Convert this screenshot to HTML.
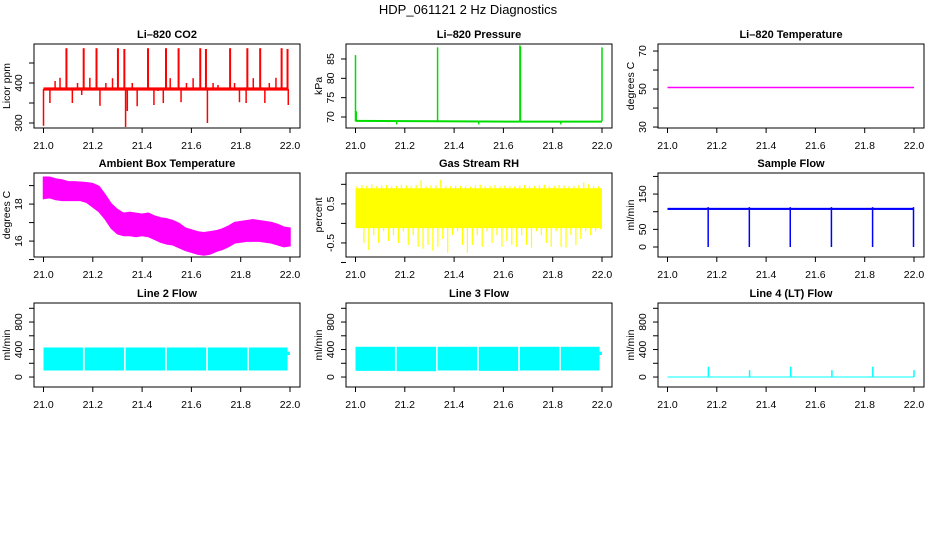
<!DOCTYPE html>
<html><head><meta charset="utf-8"><style>
body{margin:0;background:#fff;}
svg{display:block;font-family:"Liberation Sans",sans-serif;}
</style></head><body>
<svg id="chart" width="936" height="540" xmlns="http://www.w3.org/2000/svg">
<rect width="936" height="540" fill="#fff"/>
<text x="468" y="14" text-anchor="middle" font-size="13">HDP_061121  2 Hz Diagnostics</text>
</svg>
<script>
const xTicks=[21.0,21.2,21.4,21.6,21.8,22.0];
const xTickLabels=["21.0","21.2","21.4","21.6","21.8","22.0"];
// CO2
const co2Base=385;
const co2SpikeX=[21.0,21.026,21.047,21.067,21.093,21.117,21.138,21.155,21.163,21.188,21.215,21.229,21.253,21.28,21.302,21.328,21.333,21.34,21.36,21.38,21.424,21.448,21.465,21.486,21.497,21.514,21.548,21.558,21.58,21.607,21.636,21.659,21.665,21.688,21.708,21.757,21.775,21.795,21.822,21.827,21.851,21.879,21.898,21.916,21.943,21.966,21.99,21.993];
const co2SpikeY=[293,350,405,413,487,350,400,370,487,413,487,343,400,412,487,485,290,330,400,342,487,345,380,350,487,412,487,352,400,412,487,485,300,400,395,487,400,352,350,487,412,487,350,400,413,487,485,345];
// Pressure
const presBaseX=[21.0,21.33,21.67,22.0];
const presBaseY=[69.0,68.9,68.8,68.8];
const presSpikeX=[21.0,21.003,21.167,21.333,21.5,21.667,21.669,21.833,22.0];
const presSpikeY=[86,71.5,68.1,88,68.1,88.5,88.2,68.1,88];
// Li-820 temperature
const tempX=[21.0,22.0];
const tempY=[50.8,50.8];
// Ambient box temp band
const ambHi=[19.45,19.45,19.35,19.3,19.2,19.2,19.18,19.15,19.1,18.95,18.5,18.0,17.7,17.5,17.55,17.5,17.45,17.5,17.35,17.25,17.2,17.1,16.95,16.7,16.6,16.5,16.45,16.5,16.55,16.65,16.8,17.0,17.05,17.1,17.15,17.1,17.05,17.0,16.9,16.75,16.7];
const ambLo=[18.3,18.35,18.25,18.2,18.2,18.2,18.2,18.1,17.85,17.6,17.2,16.7,16.4,16.3,16.3,16.25,16.3,16.25,16.1,15.95,15.85,15.8,15.65,15.5,15.4,15.3,15.25,15.3,15.45,15.55,15.7,15.9,15.95,16.0,16.0,16.0,15.95,15.9,15.8,15.7,15.75];
// RH
const rhHi=[0.95,0.98,0.96,1.0,0.95,0.97,0.98,0.95,0.96,0.99,0.97,0.96,0.98,1.1,0.95,0.97,0.98,1.12,0.96,0.95,0.97,0.96,0.95,0.94,0.97,0.99,0.95,0.96,0.98,0.95,0.97,0.96,0.95,0.97,0.98,0.95,0.96,0.97,0.99,0.95,0.96,0.98,0.97,0.95,0.96,0.98,1.05,1.0,0.96,0.95];
const rhLo=[-0.05,-0.5,-0.68,-0.3,-0.5,-0.2,-0.45,-0.3,-0.5,-0.2,-0.55,-0.3,-0.6,-0.65,-0.55,-0.7,-0.6,-0.4,-0.75,-0.3,-0.2,-0.55,-0.75,-0.55,-0.3,-0.6,-0.2,-0.5,-0.3,-0.6,-0.45,-0.55,-0.6,-0.3,-0.55,-0.62,-0.2,-0.3,-0.5,-0.6,-0.2,-0.6,-0.62,-0.3,-0.55,-0.4,-0.2,-0.3,-0.2,-0.15];
// Sample flow
const sfBase=108;
const sfDropX=[21.165,21.332,21.498,21.665,21.832,21.998];
const sfDropY=[0,0,0,0,0,0];
// Line 2/3 flow segments
const segStart=[21.0,21.167,21.333,21.5,21.667,21.833];
const segEnd=[21.16,21.327,21.493,21.66,21.827,21.99];
const l2Lo=[95,95,95,95,95,95];
const l2Hi=[430,430,430,430,430,430];
const l3Lo=[90,85,95,90,95,95];
const l3Hi=[440,440,440,440,440,440];
// Line 4
const l4SpikeX=[21.166,21.333,21.5,21.667,21.833,22.0];
const l4SpikeY=[150,100,150,100,150,100];

const svg=document.getElementById('chart');
const NS="http://www.w3.org/2000/svg";
function mk(tag,attrs,parent){const e=document.createElementNS(NS,tag);for(const k in attrs)e.setAttribute(k,attrs[k]);(parent||svg).appendChild(e);return e;}

const tops=[44,173,303];
function panel(col,row,name,title,ylab,ymin,ymax,yticks,ylabels){
  const L=34+col*312,T=tops[row],W=266,H=84,B=T+H;
  const g=mk('g',{});
  
  
  const sx=v=>L+9.5+(v-21)*246.5;
  const sy=v=>B-(v-ymin)/(ymax-ymin)*H;
  const box=mk('rect',{x:L,y:T,width:W,height:H,fill:'none',stroke:'#000','stroke-width':1},g);
  
  
  const t=mk('text',{x:L+W/2,y:T-6,'text-anchor':'middle','font-size':11,'font-weight':'bold'},g);
  t.textContent=title;
  
  
  const yl=mk('text',{x:L-24,y:T+H/2,'text-anchor':'middle','font-size':10.5,transform:`rotate(-90 ${L-24} ${T+H/2})`},g);
  yl.textContent=ylab;
  
  
  xTicks.forEach((v,i)=>{
    const x=sx(v);
    mk('line',{x1:x,x2:x,y1:B,y2:B+5,stroke:'#000'},g);
    const tx=mk('text',{x:x,y:B+21,'text-anchor':'middle','font-size':10.5},g);
    tx.textContent=xTickLabels[i];
    
    
  });
  yticks.forEach((v,i)=>{
    const y=sy(v);
    mk('line',{x1:L-5,x2:L,y1:y,y2:y,stroke:'#000'},g);
    if(ylabels[i]!==''){
      const ty=mk('text',{x:L-12,y:y,'text-anchor':'middle','font-size':10.5,transform:`rotate(-90 ${L-12} ${y})`},g);
      ty.textContent=ylabels[i];
      
      
    }
  });
  const clip='clip'+col+row;
  const cp=mk('clipPath',{id:clip},g);mk('rect',{x:L,y:T,width:W,height:H},cp);
  const d=mk('g',{'clip-path':`url(#${clip})`},g);
  return {sx,sy,d};
}
function vline(p,x,y1,y2,color,w,name){const l=mk('line',{x1:p.sx(x),x2:p.sx(x),y1:p.sy(y1),y2:p.sy(y2),stroke:color,'stroke-width':w},p.d);
  
  return l;}
function band(p,x1,x2,lo,hi,color,name){const r=mk('rect',{x:p.sx(x1),y:p.sy(hi),width:p.sx(x2)-p.sx(x1),height:p.sy(lo)-p.sy(hi),fill:color},p.d);
  
  return r;}

// CO2
let p=panel(0,0,'co2-panel','Li\u2013820 CO2','Licor ppm',287.5,497.5,[300,350,400,450],['300','','400','']);
co2SpikeX.forEach((x,i)=>vline(p,x,co2Base,co2SpikeY[i],'#f00',co2SpikeY[i]>480?2:1.5,'co2-spike'));
band(p,21.0,21.99,381,389,'#f00','co2-baseline');
// Pressure
p=panel(1,0,'pressure-panel','Li\u2013820 Pressure','kPa',67.16,88.87,[70,75,80,85],['70','75','80','85']);
{const pts=presBaseX.map((x,i)=>p.sx(x)+','+p.sy(presBaseY[i])).join(' ');
const pl=mk('polyline',{points:pts,fill:'none',stroke:'#00dd00','stroke-width':2},p.d);

}
presSpikeX.forEach((x,i)=>vline(p,x,68.9,presSpikeY[i],'#00dd00',1.5,'pressure-spike'));
// Temperature
p=panel(2,0,'li820-temp-panel','Li\u2013820 Temperature','degrees C',29.5,73.7,[30,40,50,60,70],['30','','50','','70']);
{const pl=mk('polyline',{points:tempX.map((x,i)=>p.sx(x)+','+p.sy(tempY[i])).join(' '),fill:'none',stroke:'#f0f','stroke-width':1.5},p.d);

}
// Ambient
p=panel(0,1,'ambient-temp-panel','Ambient Box Temperature','degrees C',15.14,19.68,[15,16,17,18,19],['','16','','18','']);
{const n=ambHi.length;let pts=[];
for(let i=0;i<n;i++)pts.push(p.sx(21+i/(n-1))+','+p.sy(ambHi[i]));
for(let i=n-1;i>=0;i--)pts.push(p.sx(21+i/(n-1))+','+p.sy(ambLo[i]));
const pg=mk('polygon',{points:pts.join(' '),fill:'#f0f',stroke:'#f0f','stroke-width':1.5},p.d);

}
// RH
p=panel(1,1,'rh-panel','Gas Stream RH','percent',-0.86,1.29,[-1,-0.5,0,0.5,1],['','-0.5','','0.5','']);
{band(p,21.0,22.0,-0.12,0.9,'#ff0','rh-core');
const n=rhHi.length;for(let i=0;i<n;i++){
  vline(p,21+(i+0.3)/n,0,rhHi[i],'#ff0',1.2,'rh-spike-up');
  vline(p,21+(i+0.7)/n,0,rhLo[i],'#ff0',1.2,'rh-spike-down');}}
// Sample flow
p=panel(2,1,'sample-flow-panel','Sample Flow','ml/min',-28.3,209.7,[0,50,100,150,200],['0','50','','150','']);
band(p,21.0,22.0,sfBase-3,sfBase+3,'#00f','sample-flow-baseline');
sfDropX.forEach((x,i)=>vline(p,x,sfBase+5,sfDropY[i],'#00f',1.5,'sample-flow-drop'));
// Line 2
p=panel(0,2,'line2-flow-panel','Line 2 Flow','ml/min',-145,1077,[0,200,400,600,800,1000],['0','','400','','800','']);
segStart.forEach((s,i)=>band(p,s,segEnd[i],l2Lo[i],l2Hi[i],'#0ff','line2-segment'));
band(p,21.99,22.0,320,370,'#0ff','line2-tail');
// Line 3
p=panel(1,2,'line3-flow-panel','Line 3 Flow','ml/min',-145,1077,[0,200,400,600,800,1000],['0','','400','','800','']);
segStart.forEach((s,i)=>band(p,s,segEnd[i],l3Lo[i],l3Hi[i],'#0ff','line3-segment'));
band(p,21.99,22.0,320,370,'#0ff','line3-tail');
// Line 4
p=panel(2,2,'line4-flow-panel','Line 4 (LT) Flow','ml/min',-145,1077,[0,200,400,600,800,1000],['0','','400','','800','']);
{const pl=mk('line',{x1:p.sx(21),x2:p.sx(22),y1:p.sy(0),y2:p.sy(0),stroke:'#0ff','stroke-width':1},p.d);

}
l4SpikeX.forEach((x,i)=>vline(p,x,0,l4SpikeY[i],'#0ff',1.5,'line4-spike'));
</script>
</body></html>
